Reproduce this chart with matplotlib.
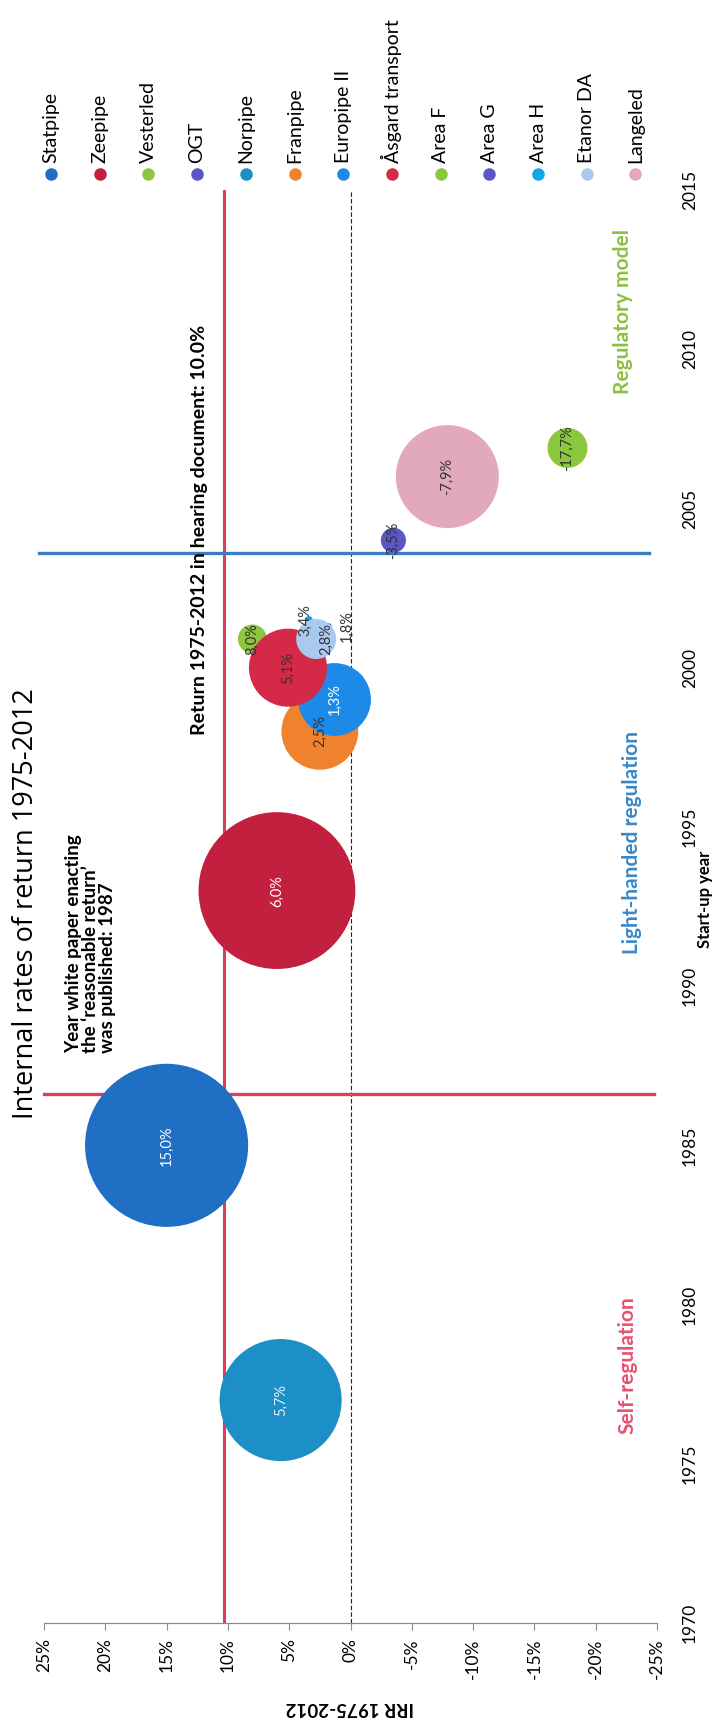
import numpy as np
import matplotlib
matplotlib.use("Agg")
import matplotlib.pyplot as plt

plt.rcParams['font.family'] = ['Lato', 'DejaVu Sans']

# ---- data ----
pipelines = ["Statpipe", "Zeepipe", "Vesterled", "OGT", "Norpipe", "Franpipe",
             "Europipe II", "Åsgard transport", "Area F", "Area G", "Area H",
             "Etanor DA", "Langeled"]
startup_year = [1985.0, 1993.0, 2000.9, 2004.0, 1977.0, 1998.0,
                1999.0, 2000.0, 2006.9, 2001.3, 2001.5, 2000.9, 2006.0]
irr = [15.0, 6.0, 8.0, -3.5, 5.7, 2.5, 1.3, 5.1, -17.7, 1.8, 3.4, 2.8, -7.9]
bubble_size = [266, 246, 8.4, 6.3, 149, 59, 53, 61, 16, 0.4, 0.6, 16, 106]

colors = ["#1f6fc5", "#c3203f", "#8dc63f", "#5b55c6", "#1b8fc6", "#f0822d",
          "#1c8ae6", "#d42a48", "#8cc83c", "#5b55c6", "#11a5ea", "#a9c9ee",
          "#e2a9ba"]
label_colors = ["white", "white", "#333333", "#333333", "#dff2fb", "#333333",
                "white", "#333333", "#333333", "#333333", "#333333", "#333333",
                "#333333"]
# the three crowded labels near 2001 are pushed apart (IRR shift)
label_shift = [0, 0, 0, 0, 0, 0, 0, 0, 0, -1.5, 0.3, -0.8, 0]

hearing_return = 10.3      # red vertical line
white_paper_year = 1986.6  # red horizontal line
light_regime_end = 2003.6  # blue horizontal line

x_ticks = [25, 20, 15, 10, 5, 0, -5, -10, -15, -20, -25]
y_ticks = [1970, 1975, 1980, 1985, 1990, 1995, 2000, 2005, 2010, 2015]

W, H = 727, 1728
fig = plt.figure(figsize=(W / 100, H / 100), dpi=100)
ax = fig.add_axes([44 / W, 1 - 1623 / H, (657 - 44) / W, (1623 - 190) / H])

ax.set_xlim(25, -25)
ax.set_ylim(1970, 2015)

# reference lines
ax.axvline(hearing_return, color="#dc3d5a", lw=2.2, zorder=1)
ax.axvline(0, color="#222222", lw=0.8, ls=(0, (4, 2)), zorder=1)
ax.axhline(white_paper_year, xmin=0.0, xmax=0.995, color="#dc3d5a", lw=2.4,
           zorder=1, clip_on=False)
ax.axhline(light_regime_end, xmin=-0.008, xmax=0.987, color="#3b7fc0", lw=2.4,
           zorder=1, clip_on=False)

# bubbles
for i, name in enumerate(pipelines):
    ax.scatter(irr[i], startup_year[i], s=bubble_size[i] * 51.84,
               color=colors[i], edgecolors="none", zorder=2 + i * 0.01)
    ax.text(irr[i] + label_shift[i], startup_year[i],
            f"{irr[i]:.1f}%".replace(".", ","),
            rotation=90, ha="center", va="center", fontsize=10.5,
            color=label_colors[i], zorder=3)

# axes styling
for side in ["top", "left", "right"]:
    ax.spines[side].set_visible(False)
ax.spines["bottom"].set_color("#8a8a8a")
ax.spines["bottom"].set_linewidth(0.9)
ax.set_xticks(x_ticks)
ax.set_xticklabels([f"{v}%" for v in x_ticks], rotation=90, fontsize=12.5)
ax.tick_params(axis="x", length=5, color="#8a8a8a", pad=6)
ax.yaxis.tick_right()
ax.set_yticks(y_ticks)
ax.set_yticklabels([str(v) for v in y_ticks], rotation=90, fontsize=12.5,
                   va="center")
ax.tick_params(axis="y", length=0, pad=18)
ax.patch.set_alpha(0)

# annotations
ax.text(12.3, 1997.9, "Return 1975-2012 in hearing document: 10.0%",
        rotation=90, rotation_mode="anchor", ha="left", va="center",
        fontsize=14, fontweight="bold", color="black")
ax.text(21.2, 1987.9, "Year white paper enacting\nthe \u2018reasonable return\u2019\nwas published: 1987",
        rotation=90, rotation_mode="anchor", ha="left", va="center",
        fontsize=13.5, fontweight="bold", color="black", linespacing=1.0)
ax.text(-22.6, 1978.1, "Self-regulation", rotation=90, ha="center",
        va="center", fontsize=15, fontweight="bold", color="#e8506e")
ax.text(-23.0, 1994.5, "Light-handed regulation", rotation=90, ha="center",
        va="center", fontsize=15, fontweight="bold", color="#3a87c8")
ax.text(-22.2, 2011.2, "Regulatory model", rotation=90, ha="center",
        va="center", fontsize=15, fontweight="bold", color="#8cc040")

fig.text(26 / W, 1 - 904 / H, "Internal rates of return 1975-2012",
         rotation=90, ha="center", va="center", fontsize=19.5,
         family=["Open Sans", "DejaVu Sans"])
fig.text(705 / W, 1 - 899 / H, "Start-up year", rotation=90, ha="center",
         va="center", fontsize=12, fontweight="bold")
fig.text(350 / W, 1 - 1707 / H, "IRR 1975-2012", rotation=180, ha="center",
         va="center", fontsize=13.5, fontweight="bold")

# legend along the top, one rotated entry per pipeline
for i, name in enumerate(pipelines):
    lx = (51 + i * 48.7) / W
    fig.lines.append(plt.Line2D([lx], [1 - 174 / H], marker="o", ms=8,
                                color=colors[i], ls="none",
                                transform=fig.transFigure))
    fig.text(lx, 1 - 163 / H, name, rotation=90, rotation_mode="anchor",
             ha="left", va="center", fontsize=14)

fig.savefig("out.png", dpi=100)
